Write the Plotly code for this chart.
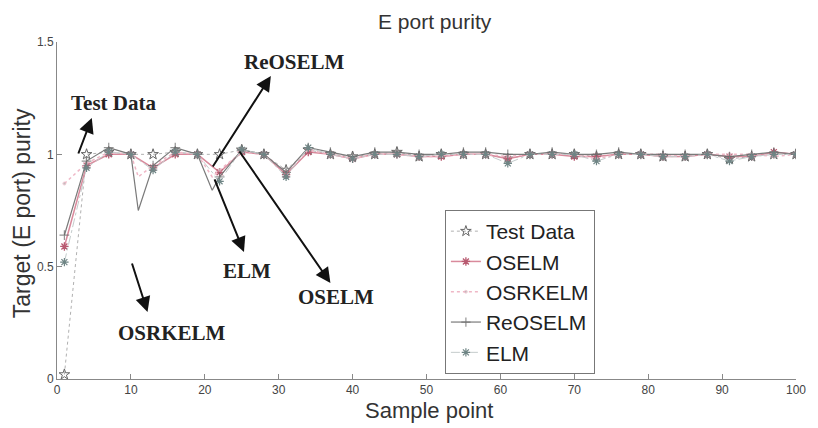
import plotly.graph_objects as go

# ---------------- data ----------------
grid_x = [1, 4, 7, 10, 13, 16, 19, 22, 25, 28, 31, 34, 37, 40, 43, 46, 49, 52, 55, 58,
          61, 64, 67, 70, 73, 76, 79, 82, 85, 88, 91, 94, 97, 100]
dip_x = [1, 4, 7, 10, 11, 13, 16, 19, 21, 22, 25, 28, 31, 34, 37, 40, 43, 46, 49, 52, 55, 58,
         61, 64, 67, 70, 73, 76, 79, 82, 85, 88, 91, 94, 97, 100]

test_data = [0.02, 1.00, 1.01, 1.00, 1.00, 1.01, 1.00, 1.00, 1.02, 1.00, 0.93, 1.02, 1.00, 0.99,
             1.00, 1.01, 0.99, 1.00, 1.00, 1.00, 0.98, 1.00, 1.00, 1.00, 0.99, 1.00, 1.00, 0.99,
             0.99, 1.00, 0.98, 0.99, 1.00, 1.00]
oselm = [0.59, 0.95, 1.00, 1.00, 0.94, 1.00, 1.00, 0.92, 1.01, 1.00, 0.91, 1.01, 1.00, 0.98,
         1.00, 1.00, 0.99, 0.99, 1.00, 1.00, 0.98, 1.00, 1.00, 0.99, 0.99, 1.00, 1.00, 0.99,
         0.99, 1.00, 0.99, 0.99, 1.01, 1.00]
osrkelm = [0.87, 0.96, 1.01, 1.00, 0.90, 0.95, 1.01, 1.00, 0.90, 0.93, 1.01, 1.00, 0.92, 1.02,
           1.00, 0.98, 1.00, 1.00, 0.99, 0.99, 1.00, 1.00, 0.99, 1.00, 1.00, 1.00, 0.98, 1.00,
           1.00, 1.00, 0.99, 1.00, 1.00, 1.00, 0.99, 1.00]
reoselm = [0.64, 0.97, 1.03, 1.00, 0.75, 0.95, 1.03, 1.00, 0.84, 0.90, 1.02, 1.00, 0.92, 1.03,
           1.01, 0.99, 1.01, 1.01, 1.00, 1.00, 1.01, 1.01, 1.00, 1.00, 1.01, 1.00, 1.00, 1.01,
           1.00, 1.00, 1.00, 1.00, 0.99, 1.00, 1.01, 1.00]
elm = [0.52, 0.94, 1.01, 1.00, 0.93, 1.01, 1.00, 0.88, 1.02, 1.00, 0.90, 1.03, 1.00, 0.98,
       1.00, 1.00, 0.99, 1.00, 1.00, 1.00, 0.96, 1.00, 1.00, 1.00, 0.97, 1.00, 1.00, 0.99,
       0.99, 1.00, 0.97, 0.99, 1.00, 1.00]

x_ticks = [0, 10, 20, 30, 40, 50, 60, 70, 80, 90, 100]
y_ticks = [0, 0.5, 1, 1.5]
y_tick_labels = ["0", "0.5", "1", "1.5"]

# annotation labels: (text, head paper x, head paper y, tail dx, tail dy, label px x, label px y)
arrow_labels = [
    ("Test Data", 0.0471, 0.7745, -14, 37, 114, 103),
    ("ReOSELM", 0.2894, 0.899, -59, 92, 296, 62),
    ("ELM", 0.253, 0.377, -30, -74, 248, 271),
    ("OSELM", 0.370, 0.285, -92, -133, 338, 297),
    ("OSRKELM", 0.1225, 0.199, -16, -50, 173, 333),
]

W, H = 818, 428
L, R, T, B = 57, 18, 42, 49
pw, ph = W - L - R, H - T - B


def msizes(xs, size):
    return [size if (x - 1) % 3 == 0 else 0 for x in xs]


fig = go.Figure()
fig.add_trace(go.Scatter(
    x=grid_x, y=test_data, name="Test Data", mode="lines+markers", legendgroup="a",
    line=dict(color="#b0b0b0", width=1, dash="dot"),
    marker=dict(symbol="star-open", size=8, color="#666666", line=dict(width=1))))
fig.add_trace(go.Scatter(
    x=grid_x, y=oselm, name="OSELM", mode="lines+markers", legendgroup="b",
    line=dict(color="#d98a9c", width=1.5),
    marker=dict(symbol="asterisk-open", size=7, color="#b85a70", line=dict(width=1.3, color="#b85a70"))))
fig.add_trace(go.Scatter(
    x=dip_x, y=osrkelm, name="OSRKELM", mode="lines+markers", legendgroup="c",
    line=dict(color="#efb7c6", width=1.5, dash="dot"),
    marker=dict(symbol="circle", size=msizes(dip_x, 3), color="#b0b0b0")))
fig.add_trace(go.Scatter(
    x=dip_x, y=reoselm, name="ReOSELM", mode="lines+markers", legendgroup="d",
    line=dict(color="#7a7a7a", width=1.2),
    marker=dict(symbol="cross-thin-open", size=msizes(dip_x, 7), color="#666666",
                line=dict(width=1.2, color="#666666"))))
fig.add_trace(go.Scatter(
    x=grid_x, y=elm, name="ELM", mode="lines+markers", legendgroup="e",
    line=dict(color="#c4cccc", width=1, dash="dashdot"),
    marker=dict(symbol="asterisk-open", size=7, color="#6f8585", line=dict(width=1.2, color="#6f8585"))))

annos = []
for text, hx, hy, dx, dy, lx, ly in arrow_labels:
    annos.append(dict(x=hx, y=hy, xref="paper", yref="paper", ax=dx, ay=dy,
                      axref="pixel", ayref="pixel", text="", showarrow=True,
                      arrowhead=2, arrowsize=1.5, arrowwidth=2, arrowcolor="#111111"))
    annos.append(dict(x=(lx - L) / pw, y=(H - B - ly) / ph, xref="paper", yref="paper",
                      text="<b>%s</b>" % text, showarrow=False, xanchor="center", yanchor="middle",
                      font=dict(family="Liberation Serif", size=21, color="#222222")))

annos.append(dict(x=(22 - L) / pw, y=(H - B - 213) / ph, xref="paper", yref="paper",
                  text="Target (E port) purity", textangle=-90, showarrow=False,
                  xanchor="center", yanchor="middle",
                  font=dict(family="Liberation Sans", size=23, color="#333333")))
annos.append(dict(x=(431 - L) / pw, y=(H - B - 410) / ph, xref="paper", yref="paper",
                  text="Sample point", showarrow=False, xanchor="center", yanchor="middle",
                  font=dict(family="Liberation Sans", size=22, color="#333333")))
annos.append(dict(x=(437 - L) / pw, y=(H - B - 22) / ph, xref="paper", yref="paper",
                  text="E port purity", showarrow=False, xanchor="center", yanchor="middle",
                  font=dict(family="Liberation Sans", size=21, color="#333333")))

fig.update_layout(
    width=W, height=H, margin=dict(l=L, r=R, t=T, b=B),
    paper_bgcolor="white", plot_bgcolor="white",
    annotations=annos,
    legend=dict(x=(447 - L) / pw, y=(H - B - 210) / ph, xanchor="left", yanchor="top",
                bgcolor="white", bordercolor="#777777", borderwidth=1,
                font=dict(family="Liberation Sans", size=21, color="#222222"),
                traceorder="grouped", tracegroupgap=0),
    xaxis=dict(range=[0, 100], tickvals=x_ticks, showgrid=False, zeroline=False,
               showline=True, linecolor="#888888", linewidth=1, ticks="inside",
               ticklen=5, tickcolor="#888888",
               tickfont=dict(family="Liberation Sans", size=12, color="#444444")),
    yaxis=dict(range=[0, 1.5], tickvals=y_ticks, ticktext=y_tick_labels, showgrid=False,
               zeroline=False, showline=True, linecolor="#888888", linewidth=1,
               ticks="inside", ticklen=5, tickcolor="#888888",
               tickfont=dict(family="Liberation Sans", size=12, color="#444444")),
)

fig.write_html("out.html")
